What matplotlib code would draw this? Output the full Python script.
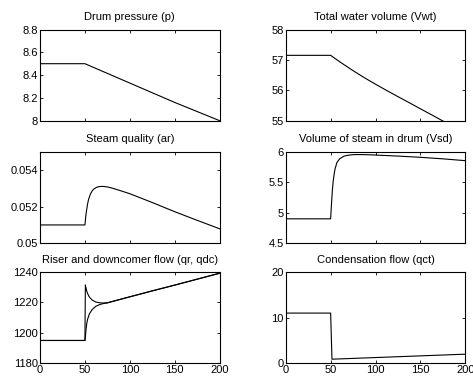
import matplotlib
matplotlib.use("Agg")
import matplotlib.pyplot as plt
from matplotlib.ticker import FuncFormatter

plt.rcParams['font.family'] = ['Liberation Sans', 'DejaVu Sans']

# ---- data ----
t_p = [0, 50, 75, 100, 125, 150, 175, 200]
p = [8.5, 8.5, 8.415, 8.33, 8.245, 8.16, 8.08, 8.0]

t_vwt = [0, 50, 62, 75, 87, 100, 112, 125, 137, 150, 162, 175, 187, 200]
vwt = [57.15, 57.15, 56.9, 56.646, 56.424, 56.2, 56.0, 55.79, 55.6, 55.39, 55.2, 54.99, 54.8, 54.59]

t_ar = [0, 50, 51, 52, 53, 54, 56, 58, 60, 63, 66, 70, 75, 80, 90, 100, 125, 150, 175, 200]
ar = [0.0510, 0.0510, 0.05150, 0.05185, 0.05215, 0.05238, 0.05267, 0.05285, 0.05296,
      0.05305, 0.05309, 0.05310, 0.05307, 0.05301, 0.05286, 0.05270, 0.05222, 0.05172,
      0.05125, 0.05079]

t_vsd = [0, 50, 51, 52, 53, 54, 55, 57, 60, 65, 70, 75, 80, 90, 100, 125, 150, 175, 200]
vsd = [4.9, 4.9, 5.15, 5.38, 5.53, 5.64, 5.72, 5.82, 5.88, 5.925, 5.94, 5.948, 5.95,
       5.948, 5.942, 5.925, 5.905, 5.88, 5.85]

t_q = [0, 50, 50.5, 51, 52, 53, 55, 58, 62, 66, 70, 75, 100, 125, 150, 175, 200]
qr = [1195, 1195, 1231.5, 1230, 1227.5, 1225.8, 1223.5, 1221.6, 1220.3, 1219.8, 1219.6,
      1219.8, 1223.7, 1227.6, 1231.4, 1235.3, 1239.2]
qdc = [1195, 1195, 1197, 1201, 1206, 1209, 1212.5, 1215.3, 1217.4, 1218.5, 1219.2,
       1219.7, 1223.7, 1227.6, 1231.4, 1235.3, 1239.2]

t_qct = [0, 50, 51.5, 200]
qct = [11, 11, 0.9, 2.0]

titles = ["Drum pressure (p)", "Total water volume (Vwt)",
          "Steam quality (ar)", "Volume of steam in drum (Vsd)",
          "Riser and downcomer flow (qr, qdc)", "Condensation flow (qct)"]
xticks = [0, 50, 100, 150, 200]

W, H = 473, 378
fig = plt.figure(figsize=(W / 100, H / 100), dpi=100)

lefts = [40, 285.7]
width = 179.7
rows = [(29.5, 120.7), (151.5, 243.3), (272, 363.3)]

def make_ax(col, row):
    top, bot = rows[row]
    return fig.add_axes([lefts[col] / W, 1 - bot / H, width / W, (bot - top) / H])

axes = [[make_ax(c, r) for c in range(2)] for r in range(3)]

gfmt = FuncFormatter(lambda v, pos: ('%g' % round(v, 6)))

specs = [
    (axes[0][0], [(t_p, p)], (8, 8.8), [8, 8.2, 8.4, 8.6, 8.8]),
    (axes[0][1], [(t_vwt, vwt)], (55, 58), [55, 56, 57, 58]),
    (axes[1][0], [(t_ar, ar)], (0.05, 0.055), [0.05, 0.052, 0.054]),
    (axes[1][1], [(t_vsd, vsd)], (4.5, 6), [4.5, 5, 5.5, 6]),
    (axes[2][0], [(t_q, qr), (t_q, qdc)], (1180, 1240), [1180, 1200, 1220, 1240]),
    (axes[2][1], [(t_qct, qct)], (0, 20), [0, 10, 20]),
]

for i, (ax, series, ylim, yt) in enumerate(specs):
    for x, y in series:
        ax.plot(x, y, color='black', lw=0.8)
    ax.set_xlim(0, 200)
    ax.set_ylim(*ylim)
    ax.set_xticks(xticks)
    ax.set_yticks(yt)
    ax.yaxis.set_major_formatter(gfmt)
    ax.tick_params(direction='in', length=2.5, width=0.6, top=True, right=True,
                   labelsize=8, pad=1.5, colors='black')
    if i < 4:
        ax.tick_params(labelbottom=False)
    for s in ax.spines.values():
        s.set_linewidth(0.8)
    ax.set_title(titles[i], fontsize=8, pad=6.5)

fig.savefig("out.png", dpi=100)
